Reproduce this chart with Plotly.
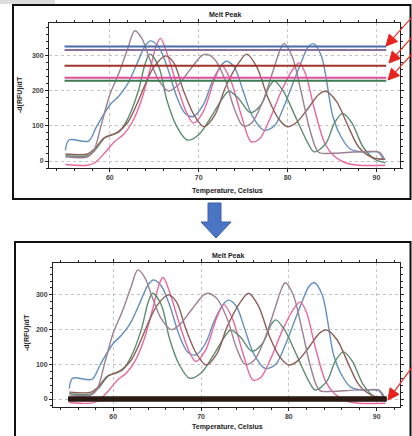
import math
import plotly.graph_objects as go

# ---------------- data ----------------
blue_t = [55.0, 55.4, 57.6, 58.5, 60.0, 61.0, 62.0, 63.0, 64.0, 64.6, 65.5, 66.5, 67.5, 68.5, 69.4, 70.5,
          71.5, 72.5, 73.1, 74.0, 75.0, 76.0, 77.3, 78.5, 79.5, 80.5, 81.5, 82.3, 82.9, 83.8, 85.1, 86.0,
          87.0, 88.0, 89.0, 90.2, 90.8]
blue_v = [30, 60, 57, 98, 160, 185, 220, 275, 330, 343, 325, 265, 185, 135, 127, 160,
          225, 272, 285, 268, 200, 130, 88, 100, 150, 215, 280, 325, 335, 300, 127, 70,
          35, 27, 26, 25, 2]

pink_t = [55.0, 57.5, 58.3, 59.5, 60.5, 61.5, 62.5, 63.5, 64.5, 65.3, 65.7, 66.4, 67.5, 68.6, 69.4, 70.5,
          71.8, 72.6, 73.6, 74.8, 75.9, 76.8, 78.0, 79.3, 80.6, 81.3, 82.0, 83.0, 84.2, 85.2, 86.5, 88.0, 91.0]
pink_v = [-10, -12, -5, 25, 55, 75, 110, 170, 260, 335, 350, 310, 220, 140, 108, 140,
          235, 272, 230, 130, 55, 62, 120, 200, 262, 280, 250, 150, 50, 15, -5, -12, -12]

green_t = [55.0, 57.5, 58.3, 59.5, 61.0, 62.0, 63.2, 64.0, 64.5, 65.5, 66.4, 67.5, 68.7, 70.0, 71.5, 72.7,
           73.4, 74.5, 75.8, 77.0, 78.0, 78.5, 79.5, 81.0, 82.3, 83.0, 84.3, 85.3, 86.2, 87.2, 88.5, 89.8, 91.0]
green_v = [15, 15, 30, 68, 82, 120, 200, 280, 305, 270, 175, 100, 60, 75, 130, 180,
           199, 178, 138, 160, 215, 228, 200, 120, 50, 26, 50, 110, 136, 110, 40, 5, -5]

brown_t = [55.0, 57.5, 58.3, 59.3, 60.3, 61.0, 62.0, 63.0, 64.0, 65.0, 66.3, 67.2, 68.3, 69.5, 70.6, 71.8,
           73.0, 74.5, 75.4, 76.5, 77.8, 79.0, 80.0, 81.0, 82.3, 83.5, 84.3, 85.5, 86.8, 88.0, 89.5, 91.0]
brown_v = [20, 20, 35, 65, 75, 85, 110, 160, 220, 270, 300, 280, 200, 130, 98, 130,
           210, 280, 305, 270, 180, 120, 98, 110, 150, 190, 199, 170, 100, 40, 10, 5]

mauve_t = [55.0, 57.5, 58.2, 59.0, 60.0, 61.0, 62.0, 62.8, 63.6, 64.5, 65.5, 66.6, 67.6, 69.0, 70.3, 70.8,
           71.8, 73.0, 74.0, 75.0, 76.0, 77.2, 78.4, 79.2, 79.6, 80.5, 81.5, 82.5, 83.5, 85.0, 87.0, 89.0,
           90.3, 90.9]
mauve_v = [12, 12, 30, 100, 190, 250, 320, 372, 350, 290, 230, 200, 215, 260, 300, 305,
           290, 230, 150, 100, 110, 170, 260, 320, 335, 300, 200, 90, 25, 22, 25, 27,
           25, 5]

curve_names = ["Blue", "Pink", "Green", "Brown", "Mauve"]
curve_colors = ["#6390bf", "#e8679f", "#5e8c70", "#8e5f57", "#9d7f93"]
curves_t = [blue_t, pink_t, green_t, brown_t, mauve_t]
curves_v = [blue_v, pink_v, green_v, brown_v, mauve_v]

# wells with no signal: flat lines before / at zero after the fix
flat_t = [54.9, 91.1]
flat_levels_before = [327, 317, 272, 238, 229]
flat_levels_after = [0, 0, 0, 0, 0]
flat_colors = ["#4a6aa8", "#8a6f9a", "#a0322c", "#e0509a", "#3f7a55"]

x_ticks = [60, 70, 80, 90]
y_ticks = [0, 100, 200, 300]

W, H = 412, 436


def px(x):
    return x / W


def py(y):
    return 1 - y / H


fig = go.Figure()

for ax_i, (xa, ya) in enumerate([("x", "y"), ("x2", "y2")]):
    for n, c, t, v in zip(curve_names, curve_colors, curves_t, curves_v):
        fig.add_trace(go.Scatter(x=t, y=v, mode="lines", name=n, xaxis=xa, yaxis=ya,
                                 line=dict(color=c, width=1.4, shape="spline", smoothing=0.9),
                                 showlegend=False, hoverinfo="skip"))
    if ax_i == 0:
        for lv, c in zip(flat_levels_before, flat_colors):
            fig.add_trace(go.Scatter(x=flat_t, y=[lv, lv], mode="lines", xaxis=xa, yaxis=ya,
                                     line=dict(color=c, width=2), showlegend=False, hoverinfo="skip"))
    else:
        for lv in flat_levels_after:
            fig.add_trace(go.Scatter(x=flat_t, y=[lv, lv], mode="lines", xaxis=xa, yaxis=ya,
                                     line=dict(color="#2b1a12", width=4.5), showlegend=False,
                                     hoverinfo="skip"))

tickfont = dict(family="Liberation Sans", size=7, color="#444444", weight="bold")
common_x = dict(range=[53.15, 92.65], tickvals=x_ticks, showline=True, linecolor="#222", linewidth=1,
                mirror="ticks", ticks="outside", ticklen=3, tickcolor="#222", tickfont=tickfont,
                showgrid=True, gridcolor="#c4c4c4", griddash="dot", gridwidth=1, zeroline=False,
                minor=dict(dtick=2, ticks="outside", ticklen=2, tickcolor="#222", showgrid=False))
common_y = dict(tickvals=y_ticks, showline=True, linecolor="#222", linewidth=1,
                mirror="ticks", ticks="outside", ticklen=3, tickcolor="#222", tickfont=tickfont,
                showgrid=True, gridcolor="#c4c4c4", griddash="dot", gridwidth=1, zeroline=False,
                minor=dict(dtick=20, ticks="outside", ticklen=2, tickcolor="#222", showgrid=False))

fig.update_layout(
    width=W, height=H, margin=dict(l=0, r=0, t=0, b=0),
    paper_bgcolor="white", plot_bgcolor="white", showlegend=False,
    xaxis=dict(domain=[px(49), px(400)], anchor="y", **common_x),
    yaxis=dict(domain=[py(168), py(23)], anchor="x", range=[-20, 394], **common_y),
    xaxis2=dict(domain=[px(53), px(400)], anchor="y2", **common_x),
    yaxis2=dict(domain=[py(407), py(263)], anchor="x2", range=[-23, 392], **common_y),
)

lab = dict(family="Liberation Sans", size=7, color="#222222", weight="bold")
ann = []
ann.append(dict(x=px(225), y=py(15), text="Melt Peak"))
ann.append(dict(x=px(227), y=py(191), text="Temperature, Celsius"))
ann.append(dict(x=px(20), y=py(95), text="-d(RFU)/dT", textangle=-90))
ann.append(dict(x=px(228), y=py(255), text="Melt Peak"))
ann.append(dict(x=px(227), y=py(427), text="Temperature, Celsius"))
ann.append(dict(x=px(27), y=py(333), text="-d(RFU)/dT", textangle=-90))
for a in ann:
    a.update(xref="paper", yref="paper", showarrow=False, font=lab, xanchor="center", yanchor="middle")
fig.update_layout(annotations=ann)

shapes = []
# panel frames
shapes.append(dict(type="rect", xref="paper", yref="paper", x0=px(13), x1=px(410.5), y0=py(199), y1=py(5),
                   line=dict(color="#111", width=2), fillcolor="rgba(0,0,0,0)", layer="below"))
shapes.append(dict(type="rect", xref="paper", yref="paper", x0=px(15), x1=px(410.5), y0=py(445), y1=py(242),
                   line=dict(color="#111", width=2), fillcolor="rgba(0,0,0,0)", layer="below"))
# blue down arrow between the panels
pts = [(208, 203), (221, 203), (221, 222), (231, 222), (216, 238), (201, 222), (208, 222)]
path = "M " + " L ".join(f"{px(x):.4f},{py(y):.4f}" for x, y in pts) + " Z"
shapes.append(dict(type="path", xref="paper", yref="paper", path=path, fillcolor="#4a74c4",
                   line=dict(color="#3a5fa8", width=1)))
# grey strip at the very top-left (cropped toolbar)
shapes.append(dict(type="rect", xref="paper", yref="paper", x0=0, x1=px(55), y0=py(4), y1=1,
                   line=dict(width=0), fillcolor="#dcdcdc"))

# red call-out arrows pointing at the flat lines
arrow_tips = [(386, 46), (389, 63), (388, 80), (388, 400)]
arrow_tails = [(413, 16), (413, 36), (413, 53), (413, 366)]
for (tx, ty), (sx, sy) in zip(arrow_tips, arrow_tails):
    L = math.hypot(tx - sx, ty - sy)
    dx, dy = (tx - sx) / L, (ty - sy) / L
    hl, hw = 11, 5.5
    bx, by = tx - hl * dx, ty - hl * dy
    nx, ny = -dy, dx
    shapes.append(dict(type="line", xref="paper", yref="paper", x0=px(sx), y0=py(sy), x1=px(bx), y1=py(by),
                       line=dict(color="#e8392f", width=1.3)))
    tri = [(tx, ty), (bx + hw * nx, by + hw * ny), (bx - hw * nx, by - hw * ny)]
    tpath = "M " + " L ".join(f"{px(x):.4f},{py(y):.4f}" for x, y in tri) + " Z"
    shapes.append(dict(type="path", xref="paper", yref="paper", path=tpath, fillcolor="#e8231d",
                       line=dict(color="#e8231d", width=1)))
fig.update_layout(shapes=shapes)

fig.write_html("out.html", config={"displayModeBar": False},
               post_script="document.body.style.margin='0';document.body.style.overflow='hidden';")
